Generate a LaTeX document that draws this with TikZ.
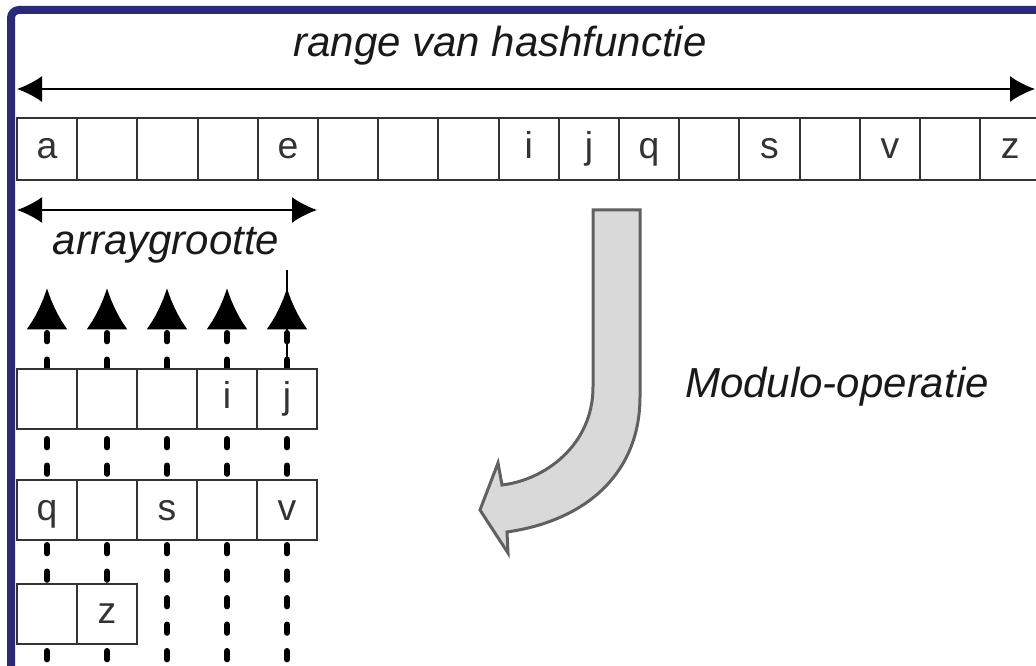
\documentclass[tikz,border=0pt]{standalone}
\usepackage{fontspec}
\setmainfont{Liberation Sans}
\usetikzlibrary{arrows, arrows.meta}
\definecolor{framecol}{RGB}{42,42,118}
\definecolor{blockfill}{RGB}{217,217,217}
\definecolor{blockline}{RGB}{96,96,96}
\definecolor{cellline}{RGB}{51,51,51}

\begin{document}
\begin{tikzpicture}[x=0.75pt, y=-0.75pt,
  hcell/.style={draw=cellline, line width=1.5pt, fill=white, inner sep=0pt,
    minimum width=45.15pt, minimum height=46.5pt, text height=14.5pt, text depth=0pt,
    font=\fontsize{28pt}{33pt}\selectfont, text=cellline},
  acell/.style={hcell, minimum width=45pt, minimum height=45pt},
  lbl/.style={anchor=base, font=\fontsize{31.5pt}{37pt}\selectfont\itshape, text=black!90},
  rangearrow/.style={line width=1.5pt,
    {Latex[length=18.75pt,width=19.5pt]}-{Latex[length=18.75pt,width=19.5pt]}},
  linkline/.style={line width=4.2pt, line cap=round, dash pattern=on 6.5pt off 13.375pt,
    -{Latex[length=31pt,width=31pt]}}]
\useasboundingbox (0,0) rectangle (1036,666);
\clip (0,0) rectangle (1036,666);
\draw[draw=framecol, line width=6pt, rounded corners=6pt] (11,666) -- (11,10) -- (1036,10);

% range van de hashfunctie
\node[hcell] (h1) at (47.1,149) {a};
\node[hcell] (h2) at (107.3,149) {};
\node[hcell] (h3) at (167.5,149) {};
\node[hcell] (h4) at (227.7,149) {};
\node[hcell] (h5) at (287.9,149) {e};
\node[hcell] (h6) at (348.1,149) {};
\node[hcell] (h7) at (408.3,149) {};
\node[hcell] (h8) at (468.5,149) {};
\node[hcell] (h9) at (528.7,149) {i};
\node[hcell] (h10) at (588.9,149) {j};
\node[hcell] (h11) at (649.1,149) {q};
\node[hcell] (h12) at (709.3,149) {};
\node[hcell] (h13) at (769.5,149) {s};
\node[hcell] (h14) at (829.7,149) {};
\node[hcell] (h15) at (889.9,149) {v};
\node[hcell] (h16) at (950.1,149) {};
\node[hcell] (h17) at (1010.3,149) {z};
\coordinate (rl) at (17,89);
\coordinate (rr) at (1035,89);
\draw[rangearrow] (rl) -- (rr);
\node[lbl] (rtitle) at (500,57) {range van hashfunctie};

\coordinate (al) at (17,210);
\coordinate (ar) at (317,210);
\draw[rangearrow] (al) -- (ar);
\node[lbl] (atitle) at (166,255) {arraygrootte};

% ketens
\coordinate (d1) at (47,686);  \coordinate (u1) at (47,288);
\coordinate (d2) at (107,686); \coordinate (u2) at (107,288);
\coordinate (d3) at (167,686); \coordinate (u3) at (167,288);
\coordinate (d4) at (227,686); \coordinate (u4) at (227,288);
\coordinate (d5) at (287,686); \coordinate (u5) at (287,288);
\draw[linkline] (d1) -- (u1);
\draw[linkline] (d2) -- (u2);
\draw[linkline] (d3) -- (u3);
\draw[linkline] (d4) -- (u4);
\draw[linkline] (d5) -- (u5);
\coordinate (tick) at (287,270);

\node[acell] (a11) at (47,399) {};
\node[acell] (a12) at (107,399) {};
\node[acell] (a13) at (167,399) {};
\node[acell] (a14) at (227,399) {i};
\node[acell] (a15) at (287,399) {j};
\node[acell] (a21) at (47,510.5) {q};
\node[acell] (a22) at (107,510.5) {};
\node[acell] (a23) at (167,510.5) {s};
\node[acell] (a24) at (227,510.5) {};
\node[acell] (a25) at (287,510.5) {v};
\node[acell] (a31) at (47,614) {};
\node[acell] (a32) at (107,614) {z};
\draw[line width=1.1pt] (a15.north) -- (tick);

% modulo
\draw[fill=blockfill, draw=blockline, line width=2.25pt]
  (593,210) -- (640,210) -- (640,397)
  .. controls (640,470) and (590,520) .. (507,532)
  -- (508,553) -- (480,510) -- (498,463) -- (502,485)
  .. controls (545,480) and (593,445) .. (593,387) -- cycle;
\node[lbl] (mtitle) at (837,398) {Modulo-operatie};

\end{tikzpicture}
\end{document}
